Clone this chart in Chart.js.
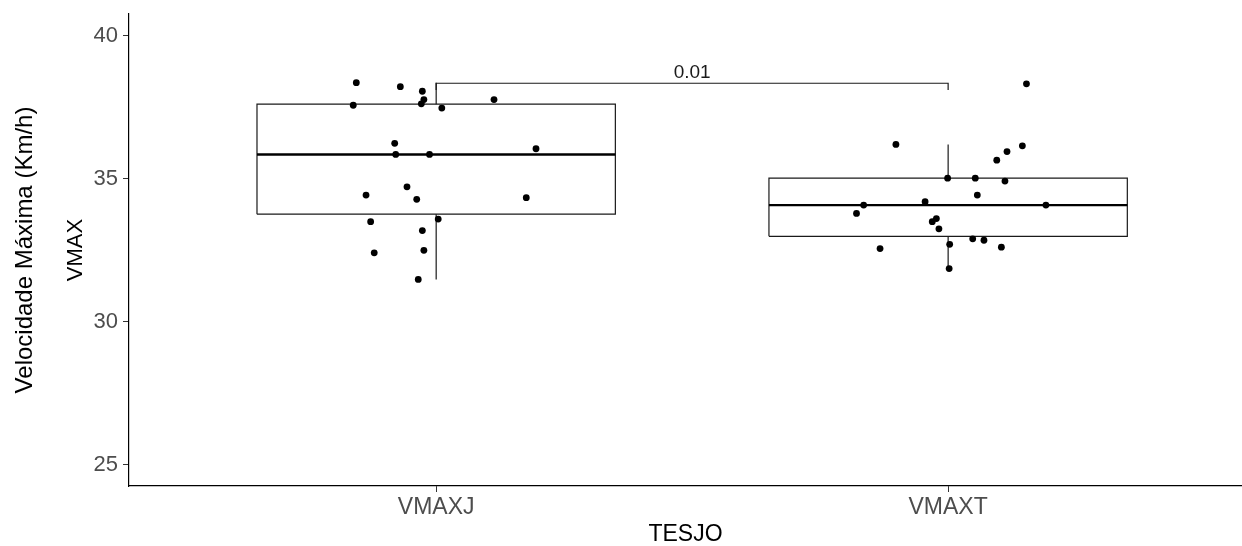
<!DOCTYPE html>
<html>
<head>
<meta charset="utf-8">
<script src="https://cdn.jsdelivr.net/npm/chart.js@4.4.1/dist/chart.umd.min.js"></script>
<style>
  html, body { margin: 0; padding: 0; background: #ffffff; }
  #wrap { width: 1242px; height: 546px; position: relative; }
</style>
</head>
<body>
<div id="wrap"><canvas id="c" width="1242" height="546"></canvas></div>
<script>
// ---- data ----
const categories = ['VMAXJ', 'VMAXT'];
const valuesJ = [38.35, 38.21, 38.05, 37.76, 37.61, 37.56, 37.46, 37.76, 36.23, 35.84, 35.84,
                 36.04, 34.71, 34.42, 34.27, 34.33, 33.58, 33.49, 33.18, 32.40, 32.49, 31.47];
const jitterJ = [-0.156, -0.070, -0.027, -0.024, -0.029, -0.162, 0.011, 0.113, -0.081, -0.079, -0.013,
                 0.195, -0.057, -0.137, -0.038, 0.176, 0.004, -0.128, -0.027, -0.121, -0.024, -0.035];
const valuesT = [38.31, 36.19, 36.14, 35.94, 35.64, 35.01, 35.01, 34.91, 34.42, 34.19, 34.07,
                 34.07, 33.78, 33.60, 33.49, 33.24, 32.89, 32.84, 32.70, 32.60, 32.55, 31.85];
const jitterT = [0.153, -0.102, 0.145, 0.115, 0.095, -0.001, 0.053, 0.111, 0.057, -0.045, -0.165,
                 0.191, -0.179, -0.023, -0.031, -0.018, 0.048, 0.070, 0.003, 0.104, -0.133, 0.002];
const yTicks = [25, 30, 35, 40];
const pLabel = '0.01';
const bracketY = 38.33;

// ---- helpers ----
function quantile(sorted, p) {
  const pos = (sorted.length - 1) * p;
  const lo = Math.floor(pos), hi = Math.ceil(pos);
  return sorted[lo] + (sorted[hi] - sorted[lo]) * (pos - lo);
}
function boxStats(vals) {
  const s = vals.slice().sort((a, b) => a - b);
  const q1 = quantile(s, 0.25), med = quantile(s, 0.5), q3 = quantile(s, 0.75);
  const iqr = q3 - q1;
  const lowW = s.find(v => v >= q1 - 1.5 * iqr);
  const highW = s.slice().reverse().find(v => v <= q3 + 1.5 * iqr);
  return { q1, med, q3, lowW, highW };
}
const BOX_HALF = 0.35;
const FONT = "'Liberation Sans', Arial, Helvetica, sans-serif";

const datasets = [];
[valuesJ, valuesT].forEach((vals, i) => {
  const cx = i + 1;
  const st = boxStats(vals);
  datasets.push({
    label: 'box' + i, order: 3,
    data: [
      { x: cx - BOX_HALF, y: st.q1 }, { x: cx + BOX_HALF, y: st.q1 },
      { x: cx + BOX_HALF, y: st.q3 }, { x: cx - BOX_HALF, y: st.q3 },
      { x: cx - BOX_HALF, y: st.q1 }
    ],
    borderColor: '#1a1a1a', borderWidth: 1.2, backgroundColor: '#ffffff',
    fill: true, pointRadius: 0, tension: 0
  });
  datasets.push({
    label: 'median' + i, order: 2,
    data: [{ x: cx - BOX_HALF, y: st.med }, { x: cx + BOX_HALF, y: st.med }],
    borderColor: '#000000', borderWidth: 2.4, fill: false, pointRadius: 0
  });
  datasets.push({
    label: 'whisk' + i, order: 2,
    data: [{ x: cx, y: st.q3 }, { x: cx, y: st.highW }, { x: cx, y: null },
           { x: cx, y: st.q1 }, { x: cx, y: st.lowW }],
    borderColor: '#1a1a1a', borderWidth: 1.2, fill: false, pointRadius: 0, spanGaps: false
  });
});
datasets.push({
  label: 'pts', type: 'scatter', order: 0,
  data: valuesJ.map((v, k) => ({ x: 1 + jitterJ[k], y: v }))
        .concat(valuesT.map((v, k) => ({ x: 2 + jitterT[k], y: v }))),
  pointRadius: 3.4, pointBackgroundColor: '#000', pointBorderColor: '#000', pointBorderWidth: 0,
  showLine: false
});
const tip = 0.24;
datasets.push({
  label: 'bracket', order: 1,
  data: [{ x: 1, y: bracketY - tip }, { x: 1, y: bracketY }, { x: 2, y: bracketY }, { x: 2, y: bracketY - tip }],
  borderColor: '#1a1a1a', borderWidth: 1.2, fill: false, pointRadius: 0
});

const labelPlugin = {
  id: 'pLabel',
  afterDatasetsDraw(chart) {
    const { ctx, scales } = chart;
    const x = scales.x.getPixelForValue(1.5);
    const y = scales.y.getPixelForValue(bracketY) - 5.5;
    ctx.save();
    ctx.font = '19px ' + FONT;
    ctx.fillStyle = '#1a1a1a';
    ctx.textAlign = 'center';
    ctx.textBaseline = 'alphabetic';
    ctx.fillText(pLabel, x, y);
    ctx.restore();
  }
};

function noPad(s) { s.paddingTop = 0; s.paddingBottom = 0; s.paddingLeft = 0; s.paddingRight = 0; }

new Chart(document.getElementById('c'), {
  type: 'line',
  data: { datasets },
  options: {
    responsive: false, animation: false,
    layout: { autoPadding: false, padding: { top: 14, left: 0, right: 0, bottom: 0 } },
    plugins: { legend: { display: false }, tooltip: { enabled: false } },
    events: [],
    scales: {
      x: {
        type: 'linear', min: 0.4, max: 2.574,
        afterBuildTicks: s => { s.ticks = categories.map((c, i) => ({ value: i + 1 })); },
        afterFit: s => { s.height = 60; noPad(s); },
        ticks: {
          callback: (v) => categories[Math.round(v) - 1] || '',
          color: '#4D4D4D', font: { family: FONT, size: 23 }, padding: 2, maxRotation: 0
        },
        grid: { display: true, drawOnChartArea: false, drawTicks: true, tickLength: 6, color: '#333333', lineWidth: 1 },
        border: { display: true, color: '#000000', width: 1.2 },
        title: { display: true, text: 'TESJO', color: '#000000', font: { family: FONT, size: 23 }, padding: { top: 0, bottom: -2 } }
      },
      y2: {
        type: 'linear', position: 'left', weight: 2, min: 24.25, max: 40.75,
        afterFit: s => { s.width = 50; noPad(s); },
        ticks: { display: false },
        grid: { display: false, drawTicks: false },
        border: { display: false },
        title: { display: true, text: 'Velocidade Máxima (Km/h)', color: '#000000', font: { family: FONT, size: 24 }, padding: { top: 11, bottom: 0 } }
      },
      y: {
        type: 'linear', position: 'left', weight: 1, min: 24.25, max: 40.75,
        afterBuildTicks: s => { s.ticks = yTicks.map(v => ({ value: v })); },
        afterFit: s => { s.width = 79; noPad(s); },
        ticks: { color: '#4D4D4D', font: { family: FONT, size: 22 }, padding: 5 },
        grid: { display: true, drawOnChartArea: false, drawTicks: true, tickLength: 6, color: '#333333', lineWidth: 1 },
        border: { display: true, color: '#000000', width: 1.2 },
        title: { display: true, text: 'VMAX', color: '#000000', font: { family: FONT, size: 22 }, padding: { top: 13, bottom: 0 } }
      }
    }
  },
  plugins: [labelPlugin]
});
</script>
</body>
</html>
